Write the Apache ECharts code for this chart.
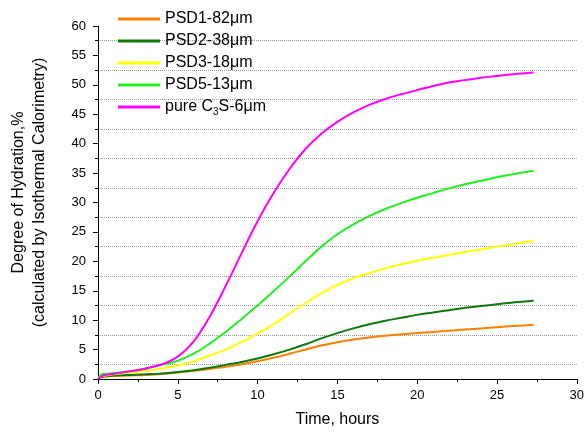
<!DOCTYPE html>
<html><head><meta charset="utf-8">
<script src="https://cdn.jsdelivr.net/npm/echarts@6/dist/echarts.min.js"></script>
<style>html,body{margin:0;padding:0;background:#fff}#c{width:587px;height:433px}</style>
</head><body><div id="c"></div>
<script>
const hours = [0,0.25,0.5,1,2,3,4,5,6,7,8,9,10,11,12,13,14,15,16,17,18,19,20,21,22,23,24,25,26,27.3];
const psd1 = [0.1,0.3,0.4,0.5,0.6,0.7,0.85,1.1,1.4,1.7,2.1,2.5,3.0,3.6,4.3,5.0,5.7,6.25,6.7,7.05,7.35,7.6,7.8,8.0,8.2,8.4,8.6,8.8,9.0,9.2];
const psd2 = [0.2,0.4,0.5,0.6,0.7,0.8,0.95,1.2,1.5,1.9,2.4,2.9,3.5,4.2,5.0,5.9,6.9,7.8,8.6,9.3,9.9,10.4,10.9,11.3,11.7,12.1,12.4,12.7,13.0,13.3];
const psd3 = [0.2,0.5,0.6,0.8,1.1,1.4,1.8,2.3,3.0,4.0,5.0,6.3,7.7,9.3,11.1,12.9,14.6,16.0,17.1,18.0,18.8,19.5,20.1,20.6,21.1,21.6,22.0,22.5,22.9,23.5];
const psd5 = [0.2,0.8,0.9,1.0,1.3,1.8,2.4,3.1,4.3,6.0,8.0,10.2,12.5,14.9,17.4,20.0,22.5,24.6,26.3,27.7,28.9,29.9,30.8,31.6,32.4,33.1,33.7,34.3,34.8,35.4];
const c3s  = [0,0.5,0.7,0.9,1.3,1.8,2.5,3.8,6.4,10.6,15.8,21.4,26.8,31.6,35.7,39.1,41.7,43.7,45.3,46.6,47.6,48.4,49.1,49.8,50.4,50.8,51.2,51.5,51.8,52.1];
const names = ['PSD1-82μm','PSD2-38μm','PSD3-18μm','PSD5-13μm','pure C3S-6μm'];
const colors = ['#FF8000','#0B7A0B','#FFFF00','#22EE22','#FF00FF'];
const values = [psd1, psd2, psd3, psd5, c3s];

const font = 'Liberation Sans, Arial, sans-serif';
const chart = echarts.init(document.getElementById('c'), null, {renderer:'canvas'});
chart.setOption({
  animation:false,
  backgroundColor:'#fff',
  grid:{left:97,right:10,top:26,bottom:54},
  legend:{
    orient:'vertical', left:113, top:6, itemWidth:42, itemHeight:3, itemGap:6,
    icon:'rect',
    data:names,
    formatter:function(n){ if(n.indexOf('C3S')>=0){return '{a|pure C}{s|3}{a|S-6μm}';} return '{a|'+n+'}'; },
    textStyle:{fontFamily:font,fontSize:16,color:'#000',
      rich:{a:{fontFamily:font,fontSize:16,color:'#000',lineHeight:20},
            s:{fontFamily:font,fontSize:10,color:'#000',verticalAlign:'bottom',lineHeight:20}}}
  },
  xAxis:{type:'value',min:0,max:30,interval:5,
    name:'Time, hours',nameLocation:'middle',nameGap:33,
    nameTextStyle:{fontFamily:font,fontSize:16,color:'#000'},
    axisLine:{show:true,onZero:false,lineStyle:{color:'#000',width:1}},
    axisTick:{show:true,inside:false,length:5,lineStyle:{color:'#000'}},
    minorTick:{show:true,splitNumber:2,length:3,lineStyle:{color:'#000'}},
    splitLine:{show:false},
    axisLabel:{fontFamily:font,fontSize:13,color:'#000',margin:10}
  },
  yAxis:{type:'value',min:0,max:60,interval:5,
    name:'Degree of Hydration,%\n(calculated by Isothermal Calorimetry)',nameLocation:'middle',nameGap:48,
    nameTextStyle:{fontFamily:font,fontSize:16,color:'#000',lineHeight:21,padding:[0,0,0,20]},
    axisLine:{show:true,onZero:false,lineStyle:{color:'#000',width:1}},
    axisTick:{show:true,inside:false,length:5,lineStyle:{color:'#000'}},
    minorTick:{show:true,splitNumber:2,length:3,lineStyle:{color:'#000'}},
    splitLine:{show:false},
    minorSplitLine:{show:true,lineStyle:{color:'#999',type:[1,1],width:1}},
    axisLabel:{fontFamily:font,fontSize:13,color:'#000',margin:12}
  },
  series: names.map(function(n,i){
    return {name:n,type:'line',smooth:0.4,symbol:'none',
      color:colors[i],
      lineStyle:{color:colors[i],width:2},
      data:hours.map(function(h,j){return [h, values[i][j]];})};
  })
});
</script></body></html>
